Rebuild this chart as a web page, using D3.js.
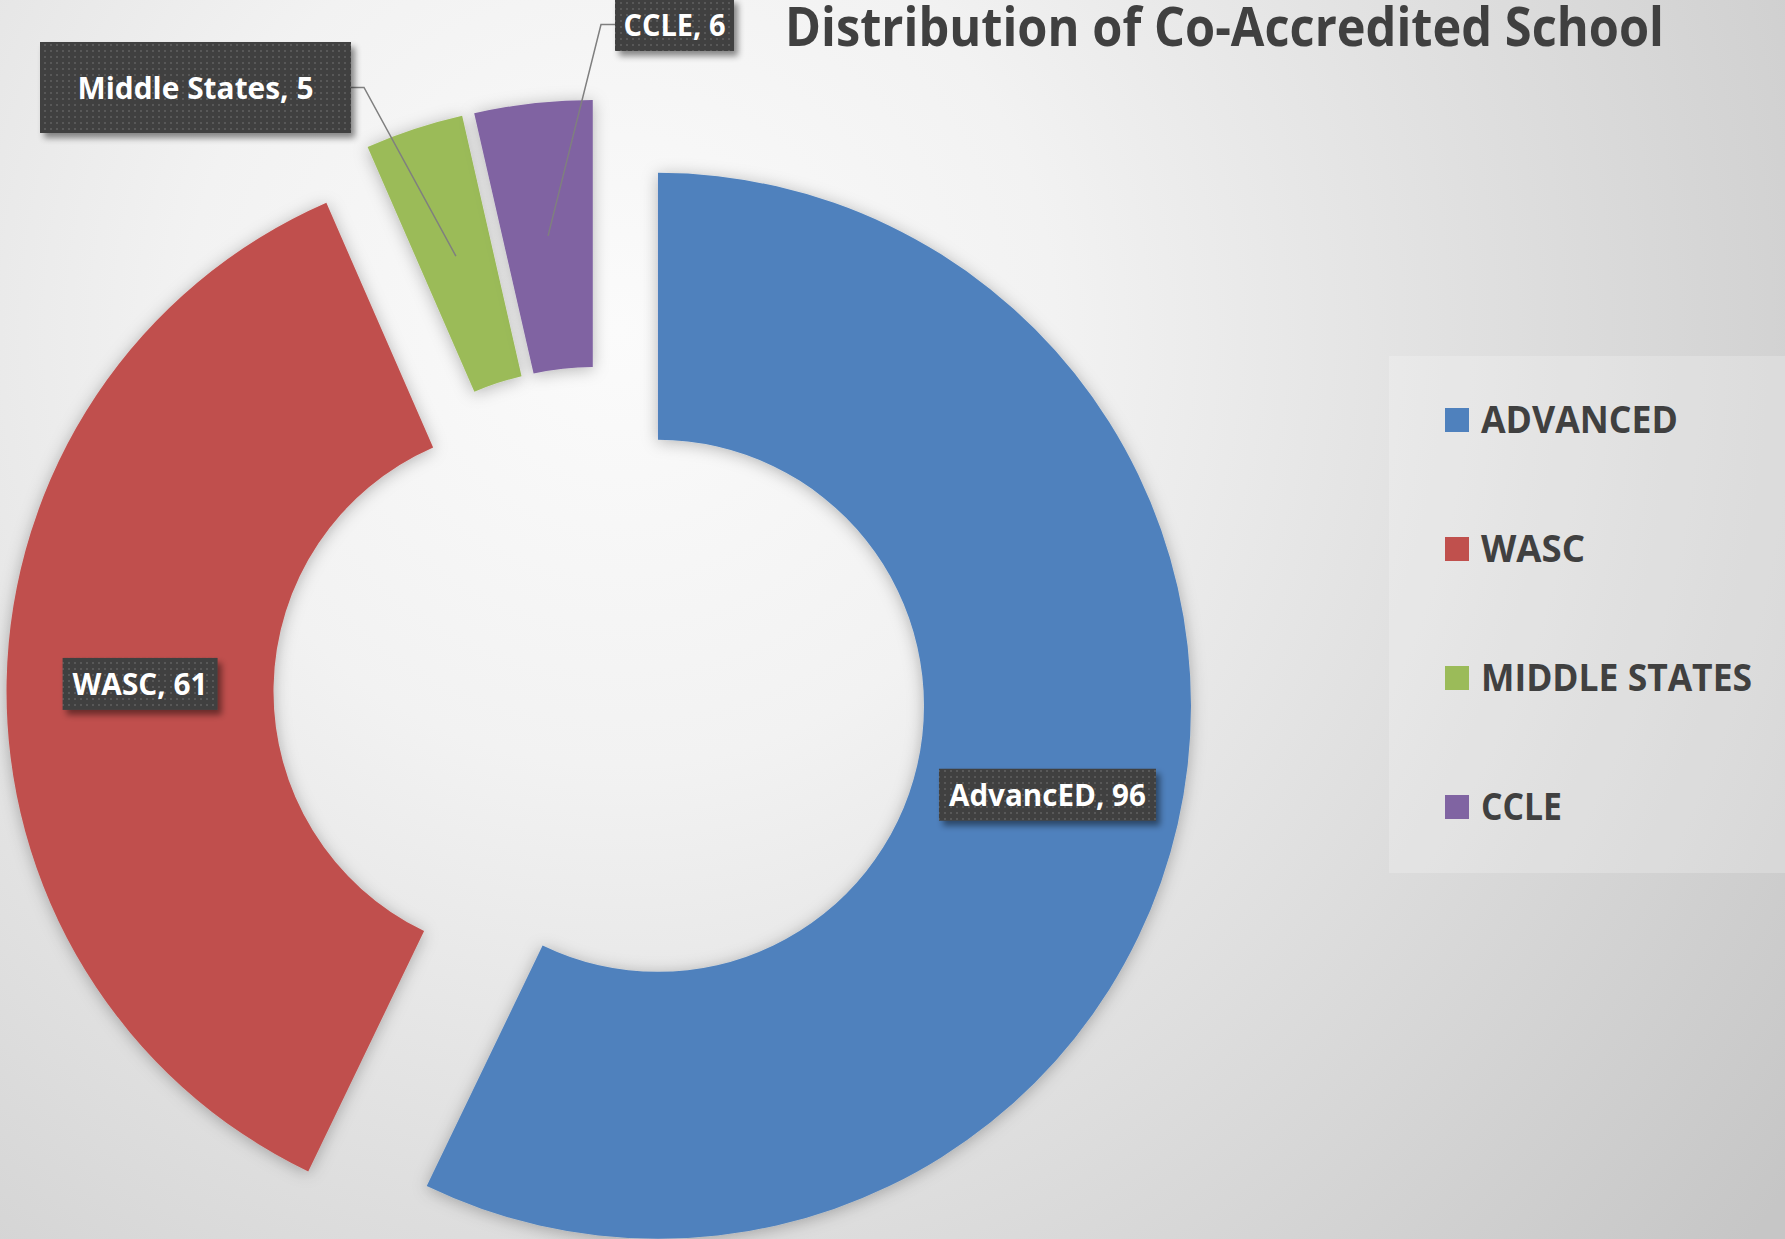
<!DOCTYPE html>
<html>
<head>
<meta charset="utf-8">
<script src="https://cdn.jsdelivr.net/npm/d3@7"></script>
<style>
    html, body { margin: 0; padding: 0; overflow: hidden; }
    svg { display: block; font-family: "Open Sans", "DejaVu Sans", sans-serif; }
</style>
</head>
<body>
<svg id="chart"></svg>
<script>
// chart data
const categories = ["AdvancED", "WASC", "Middle States", "CCLE"];
const legendNames = ["ADVANCED", "WASC", "MIDDLE STATES", "CCLE"];
const values = [96, 61, 5, 6];
const colors = ["#4f81bd", "#c0504d", "#9bbb59", "#8064a2"];

const WIDTH = 1785;
const HEIGHT = 1239;

const CX = 599.5;
const CY = 692.5;
const OUTER_R = 533;
const INNER_R = 266;
const EXPLODE = 60;

// label boxes that sit outside the ring, with a leader line
const outsideLabels = {
    "Middle States": { x: 40, y: 42, w: 311, h: 91, textW: 236, elbow: 13, side: "right" },
    "CCLE": { x: 615, y: -2, w: 119, h: 53, textW: 102, elbow: 14, side: "left" }
};
// text widths for the in-ring labels (Calibri is narrow, squeeze to match)
const insideTextW = { "AdvancED": 197, "WASC": 135 };

const svg = d3.select("#chart")
    .attr("width", WIDTH)
    .attr("height", HEIGHT)
    .attr("viewBox", `0 0 ${WIDTH} ${HEIGHT}`);

const defs = svg.append("defs");

const bg = defs.append("radialGradient")
    .attr("id", "bg")
    .attr("gradientUnits", "userSpaceOnUse")
    .attr("cx", 620).attr("cy", 330).attr("r", 1450);
bg.append("stop").attr("offset", "0").attr("stop-color", "#fbfbfb");
bg.append("stop").attr("offset", "0.3").attr("stop-color", "#f2f2f2");
bg.append("stop").attr("offset", "1").attr("stop-color", "#c6c6c6");

const glow = defs.append("filter").attr("id", "glow")
    .attr("x", "-20%").attr("y", "-20%").attr("width", "140%").attr("height", "140%");
glow.append("feDropShadow")
    .attr("dx", 0).attr("dy", 2)
    .attr("stdDeviation", 8)
    .attr("flood-color", "#000")
    .attr("flood-opacity", 0.28);

const boxShadow = defs.append("filter").attr("id", "boxshadow")
    .attr("x", "-20%").attr("y", "-30%").attr("width", "140%").attr("height", "170%");
boxShadow.append("feDropShadow")
    .attr("dx", 4).attr("dy", 5)
    .attr("stdDeviation", 3)
    .attr("flood-color", "#000")
    .attr("flood-opacity", 0.45);

const dots = defs.append("pattern").attr("id", "dots")
    .attr("patternUnits", "userSpaceOnUse")
    .attr("width", 6).attr("height", 6);
dots.append("rect").attr("width", 6).attr("height", 6).attr("fill", "#404040");
dots.append("rect").attr("x", 2).attr("y", 2).attr("width", 2).attr("height", 2).attr("fill", "#585858");

svg.append("rect")
    .attr("width", WIDTH).attr("height", HEIGHT)
    .attr("fill", "url(#bg)");

// title
svg.append("text")
    .attr("x", 785)
    .attr("y", 46)
    .attr("font-size", 54)
    .attr("font-weight", "bold")
    .attr("fill", "#404040")
    .attr("textLength", 879)
    .attr("lengthAdjust", "spacingAndGlyphs")
    .text("Distribution of Co-Accredited School");

const pie = d3.pie().sort(null).value((d) => d.value);
const arcs = pie(categories.map((c, i) => ({ name: c, value: values[i], color: colors[i] })));

const arc = d3.arc().innerRadius(INNER_R).outerRadius(OUTER_R);

function explodeOffset(a) {
    const mid = (a.startAngle + a.endAngle) / 2;
    return [Math.sin(mid) * EXPLODE, -Math.cos(mid) * EXPLODE];
}

const ring = svg.append("g").attr("transform", `translate(${CX} ${CY})`);

ring.selectAll("path.slice").data(arcs).join("path")
    .attr("class", "slice")
    .attr("transform", (a) => {
        const [dx, dy] = explodeOffset(a);
        return `translate(${dx} ${dy})`;
    })
    .attr("d", arc)
    .attr("fill", (a) => a.data.color)
    .attr("filter", "url(#glow)");

// data labels
const labelg = svg.append("g");
arcs.forEach((a) => {
    const [dx, dy] = explodeOffset(a);
    const [ax, ay] = arc.centroid(a);
    const px = CX + dx + ax;
    const py = CY + dy + ay;
    const name = a.data.name;
    const text = `${name}, ${a.data.value}`;
    const out = outsideLabels[name];

    let bx, by, bw, bh, tw;
    if(out) {
        bx = out.x; by = out.y; bw = out.w; bh = out.h; tw = out.textW;
        // leader line from box edge to slice centroid
        const ly = by + bh / 2;
        const sx = out.side === "right" ? bx + bw : bx;
        const ex = out.side === "right" ? sx + out.elbow : sx - out.elbow;
        labelg.append("path")
            .attr("d", `M${sx},${ly} L${ex},${ly} L${px},${py}`)
            .attr("fill", "none")
            .attr("stroke", "#7f7f7f")
            .attr("stroke-width", 1.5);
    } else {
        tw = insideTextW[name];
        bw = tw + 20;
        bh = 52;
        bx = px - bw / 2;
        by = py - bh / 2;
    }

    labelg.append("rect")
        .attr("x", bx).attr("y", by)
        .attr("width", bw).attr("height", bh)
        .attr("fill", "url(#dots)")
        .attr("filter", "url(#boxshadow)");
    labelg.append("text")
        .attr("x", bx + bw / 2)
        .attr("y", by + bh / 2 + 11)
        .attr("text-anchor", "middle")
        .attr("font-size", 30)
        .attr("font-weight", "bold")
        .attr("fill", "#ffffff")
        .attr("textLength", tw)
        .attr("lengthAdjust", "spacingAndGlyphs")
        .text(text);
});

// legend
const legendW = [197, 104, 271, 81];
const legend = svg.append("g");
legend.append("rect")
    .attr("x", 1389).attr("y", 356)
    .attr("width", 420).attr("height", 517)
    .attr("fill", "#ffffff")
    .attr("fill-opacity", 0.22);

const legendY = d3.scalePoint()
    .domain(legendNames)
    .range([420, 807]);

legendNames.forEach((n, i) => {
    const y = legendY(n);
    legend.append("rect")
        .attr("x", 1445).attr("y", y - 12)
        .attr("width", 24).attr("height", 24)
        .attr("fill", colors[i]);
    legend.append("text")
        .attr("x", 1481)
        .attr("y", y + 13)
        .attr("font-size", 37)
        .attr("font-weight", "bold")
        .attr("fill", "#404040")
        .attr("textLength", legendW[i])
        .attr("lengthAdjust", "spacingAndGlyphs")
        .text(n);
});
</script>
</body>
</html>
